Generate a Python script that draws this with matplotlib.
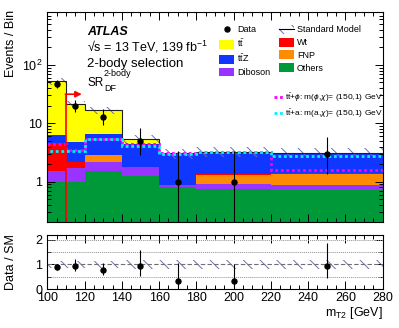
import numpy as np
import matplotlib
matplotlib.use("Agg")
import matplotlib.pyplot as plt
from matplotlib.patches import Patch
from matplotlib.lines import Line2D
from matplotlib.ticker import MultipleLocator, FixedLocator, FixedFormatter, LogLocator, NullFormatter

plt.rcParams['font.family'] = ['Liberation Sans', 'DejaVu Sans']
plt.rcParams['mathtext.fontset'] = 'custom'
plt.rcParams['mathtext.rm'] = 'Liberation Sans'
plt.rcParams['mathtext.it'] = 'Liberation Sans:italic'
plt.rcParams['mathtext.bf'] = 'Liberation Sans:bold'
plt.rcParams['hatch.linewidth'] = 0.7

# binning in mT2 [GeV]
edges = np.array([100, 110, 120, 140, 160, 180, 220, 280])

# SM backgrounds, events per bin (stacked bottom -> top)
others = np.array([1.00, 1.00, 1.53, 1.26, 0.82, 0.74, 0.72])
diboson = np.array([0.54, 0.70, 0.67, 0.52, 0.06, 0.16, 0.16])
fnp = np.array([0.00, 0.00, 0.66, 0.00, 0.00, 0.40, 0.50])
wt = np.array([3.06, 0.50, 0.05, 0.00, 0.00, 0.06, 0.04])
ttz = np.array([1.70, 2.50, 3.65, 2.60, 2.15, 1.84, 1.68])
ttbar = np.array([46.7, 16.3, 10.35, 0.95, 0.03, 0.05, 0.04])
sm_rel_unc = np.array([0.13, 0.14, 0.14, 0.20, 0.20, 0.20, 0.20])

# signals
sig_phi = np.array([4.5, 3.5, 5.3, 4.4, 3.05, 3.2, 1.59])
sig_a = np.array([3.3, 3.3, 5.3, 4.1, 3.0, 3.25, 2.75])

# data with asymmetric poisson errors
data = np.array([47, 20, 13, 5, 1, 1, 3])
data_err_lo = np.array([6.8, 4.4, 3.6, 2.16, 0.83, 0.83, 1.63])
data_err_hi = np.array([7.9, 5.5, 4.7, 3.38, 2.30, 2.30, 2.92])

cut_value = 110
arrow_y = 31.5

bkgs = [
    ("Others", others, "#00993a"),
    ("Diboson", diboson, "#9933ff"),
    ("FNP", fnp, "#ff8c00"),
    ("Wt", wt, "#ff0000"),
    (r"$\mathrm{t\bar{t}Z}$", ttz, "#0f37ff"),
    (r"$\mathrm{t\bar{t}}$", ttbar, "#ffff00"),
]
hatch_col = "#7070b8"
hatch = "\\\\"

W, H = 399, 328
fig = plt.figure(figsize=(W / 100, H / 100), dpi=100)
ax = fig.add_axes([47.3 / W, 1 - 221.7 / H, 335.4 / W, 210 / H])
rax = fig.add_axes([47.3 / W, 1 - 289 / H, 335.4 / W, 54 / H])

centers = 0.5 * (edges[1:] + edges[:-1])
widths = np.diff(edges)
ymin, ymax = 0.2065, 815

# stacked backgrounds
base = np.zeros(len(centers))
handles = {}
for name, vals, col in bkgs:
    top = base + vals
    ax.stairs(top, edges, baseline=base, fill=True, color=col, lw=0)
    handles[name] = Patch(facecolor=col, edgecolor="none")
    base = top
total = base

# SM uncertainty band + outline
ax.bar(centers, 2 * total * sm_rel_unc, bottom=total * (1 - sm_rel_unc), width=widths,
       fill=False, hatch=hatch, edgecolor=hatch_col, lw=0)
ax.stairs(total, edges, baseline=None, color="#202020", lw=0.8)

# signals
ax.stairs(sig_phi, edges, baseline=None, color="#ff00ff", lw=2.0, ls=(0, (1, 1)))
ax.stairs(sig_a, edges, baseline=None, color="#00f0ff", lw=2.0, ls=(1, (1, 1)))

# cut arrow
ax.vlines(cut_value, ymin, arrow_y, color="red", lw=1.2)
ax.annotate("", xy=(cut_value + 8.5, arrow_y), xytext=(cut_value - 0.3, arrow_y),
            arrowprops=dict(arrowstyle="-|>", color="red", lw=1.2, mutation_scale=9,
                            shrinkA=0, shrinkB=0))

# data
ax.errorbar(centers, data, yerr=[data_err_lo, data_err_hi], fmt="o", color="k",
            ms=3.6, lw=0.8, capsize=0)

ax.set_yscale("log")
ax.set_xlim(edges[0], edges[-1])
ax.set_ylim(ymin, ymax)
ax.yaxis.set_major_locator(FixedLocator([1, 10, 100]))
ax.yaxis.set_major_formatter(FixedFormatter(["1", "10", r"$10^2$"]))
ax.yaxis.set_minor_locator(LogLocator(base=10, subs=np.arange(2, 10)))
ax.yaxis.set_minor_formatter(NullFormatter())
ax.xaxis.set_major_locator(MultipleLocator(20))
ax.xaxis.set_minor_locator(MultipleLocator(5))
ax.tick_params(axis="x", labelbottom=False)
for a in (ax, rax):
    a.tick_params(which="both", direction="in", top=True, right=True, labelsize=9, width=0.7)
    a.tick_params(which="major", length=6)
    a.tick_params(which="minor", length=3)
    for s in a.spines.values():
        s.set_linewidth(0.8)

# legends
leg1 = ax.legend([Line2D([], [], marker="o", color="k", ls="none", ms=3.6),
                  handles[r"$\mathrm{t\bar{t}}$"], handles[r"$\mathrm{t\bar{t}Z}$"], handles["Diboson"]],
                 ["Data", r"$\mathrm{t\bar{t}}$", r"$\mathrm{t\bar{t}Z}$", "Diboson"],
                 loc="upper left", bbox_to_anchor=(0.5128, 0.9376), frameon=False, fontsize=6.5,
                 handlelength=1.65, handleheight=1.15, handletextpad=0.3, labelspacing=0.36,
                 borderpad=0, borderaxespad=0)
ax.add_artist(leg1)
sm_handle = (Patch(facecolor="none", edgecolor=hatch_col, hatch=hatch, lw=0),
             Line2D([], [], color="k", lw=0.8))
leg2 = ax.legend([sm_handle, handles["Wt"], handles["FNP"], handles["Others"]],
                 ["Standard Model", "Wt", "FNP", "Others"],
                 loc="upper left", bbox_to_anchor=(0.6917, 0.9376), frameon=False, fontsize=6.5,
                 handlelength=1.65, handleheight=1.15, handletextpad=0.3, labelspacing=0.36,
                 borderpad=0, borderaxespad=0)
ax.add_artist(leg2)
ax.legend([Line2D([], [], color="#ff00ff", lw=2.0, ls=(0, (1, 1))),
           Line2D([], [], color="#00f0ff", lw=2.0, ls=(0, (1, 1)))],
          [r"$\mathrm{t\bar{t}}$+$\phi$: m($\phi$,$\chi$)= (150,1) GeV",
           r"$\mathrm{t\bar{t}}$+a: m(a,$\chi$)= (150,1) GeV"],
          loc="upper left", bbox_to_anchor=(0.676, 0.62), frameon=False, fontsize=6,
          handlelength=1.2, handletextpad=0.15, labelspacing=0.45, borderpad=0, borderaxespad=0)

# ATLAS labels
fig.text(87 / W, 1 - 32 / H, "ATLAS", fontsize=9, fontweight="bold", fontstyle="italic", va="center")
fig.text(87 / W, 1 - 47 / H, "\u221as = 13 TeV, 139 fb$^{-1}$", fontsize=9, va="center")
fig.text(87 / W, 1 - 64 / H, "2-body selection", fontsize=9.5, va="center")
fig.text(87 / W, 1 - 83 / H, "SR", fontsize=8.5, va="center")
fig.text(104 / W, 1 - 73 / H, "2-body", fontsize=6.5, va="center")
fig.text(104 / W, 1 - 88.5 / H, "DF", fontsize=6.5, va="center")

fig.text(11 / W, 1 - 10 / H, "Events / Bin", rotation=90, fontsize=9, ha="center", va="top")
fig.text(11 / W, 1 - 262 / H, "Data / SM", rotation=90, fontsize=9, ha="center", va="center")

# ratio panel
ratio = data / total
rax.bar(centers, 2 * sm_rel_unc, bottom=1 - sm_rel_unc, width=widths, fill=False,
        hatch=hatch, edgecolor=hatch_col, lw=0)
for yv in (0.5, 1.5, 2.0):
    rax.axhline(yv, color="#909090", lw=0.7, ls=(0, (1, 1)))
rax.axhline(1.0, color="#707070", lw=0.8, ls=(0, (4, 2)))
rax.errorbar(centers, ratio, yerr=[data_err_lo / total, data_err_hi / total], fmt="o",
             color="k", ms=3.6, lw=0.8, capsize=0)
rax.set_xlim(edges[0], edges[-1])
rax.set_ylim(0, 2.2)
rax.yaxis.set_major_locator(FixedLocator([0, 1, 2]))
rax.yaxis.set_minor_locator(MultipleLocator(0.5))
rax.xaxis.set_major_locator(MultipleLocator(20))
rax.xaxis.set_minor_locator(MultipleLocator(5))
rax.tick_params(axis="x", which="major", pad=2)
rax.set_xlabel(r"m$_{\mathrm{T2}}$ [GeV]", loc="right", fontsize=9, labelpad=1)

fig.savefig("out.png", dpi=100)
